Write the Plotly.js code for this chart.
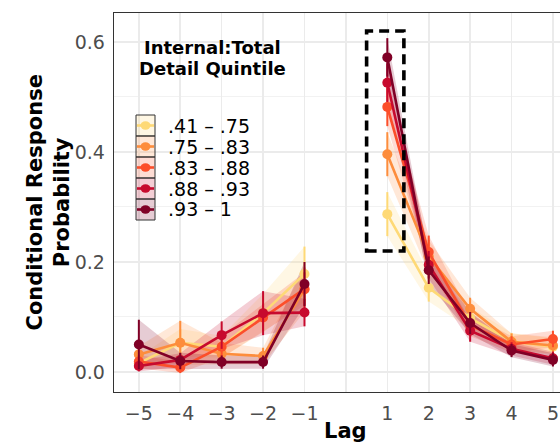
<!DOCTYPE html>
<html>
<head>
<meta charset="utf-8">
<script src="https://cdn.plot.ly/plotly-3.0.1.min.js"></script>
<style>html,body{margin:0;padding:0;background:#fff;}#chart{width:560px;height:445px;}</style>
</head>
<body>
<div id="chart"></div>
<script>
// ---- data ----
const groupLabels = [".41 \u2013 .75", ".75 \u2013 .83", ".83 \u2013 .88", ".88 \u2013 .93", ".93 \u2013 1"];
const groupColors = ["#FED976", "#FD8D3C", "#FC4E2A", "#C70A2E", "#800026"];
const lagsNeg = [-5, -4, -3, -2, -1];
const lagsPos = [1, 2, 3, 4, 5];

const crpNeg = [
  [0.016, 0.053, 0.046, 0.107, 0.178],
  [0.032, 0.053, 0.033, 0.029, 0.150],
  [0.019, 0.008, 0.046, 0.099, 0.151],
  [0.011, 0.022, 0.067, 0.107, 0.108],
  [0.050, 0.020, 0.018, 0.018, 0.160]
];
const crpPos = [
  [0.287, 0.153, 0.098, 0.056, 0.046],
  [0.396, 0.210, 0.115, 0.055, 0.048],
  [0.482, 0.218, 0.085, 0.050, 0.060],
  [0.526, 0.195, 0.075, 0.042, 0.025],
  [0.572, 0.185, 0.089, 0.039, 0.022]
];
const ciNeg = [
  [0.012, 0.025, 0.020, 0.035, 0.050],
  [0.015, 0.040, 0.020, 0.015, 0.040],
  [0.012, 0.010, 0.020, 0.025, 0.030],
  [0.010, 0.012, 0.025, 0.040, 0.025],
  [0.045, 0.015, 0.012, 0.012, 0.040]
];
const ciPos = [
  [0.040, 0.025, 0.020, 0.015, 0.015],
  [0.040, 0.030, 0.020, 0.015, 0.015],
  [0.035, 0.030, 0.020, 0.015, 0.015],
  [0.035, 0.025, 0.020, 0.012, 0.012],
  [0.035, 0.025, 0.020, 0.012, 0.012]
];
const xTickVals = [-5, -4, -3, -2, -1, 0, 1, 2, 3, 4, 5];
const xTickText = ["\u22125", "\u22124", "\u22123", "\u22122", "\u22121", "", "1", "2", "3", "4", "5"];
const yTickVals = [0, 0.2, 0.4, 0.6];
const yTickText = ["0.0", "0.2", "0.4", "0.6"];
const legendTitle = ["Internal:Total", "Detail Quintile"];
const highlight = {x0: 0.5, x1: 1.4, y0: 0.22, y1: 0.62};

// ---- helpers ----
function rgba(hex, a) {
  const r = parseInt(hex.slice(1, 3), 16), g = parseInt(hex.slice(3, 5), 16), b = parseInt(hex.slice(5, 7), 16);
  return `rgba(${r},${g},${b},${a})`;
}
const FONT = "DejaVu Sans, Liberation Sans, Arial, sans-serif";
const L = 114, R = 560, T = 13, B = 392;
const pxX = x => (x - L) / (R - L);
const pxY = y => (B - y) / (B - T);

const ribbons = [], lines = [];
const sides = [[lagsNeg, crpNeg, ciNeg], [lagsPos, crpPos, ciPos]];
groupLabels.forEach((lab, g) => {
  sides.forEach(([lags, crp, ci]) => {
    const up = crp[g].map((v, i) => v + ci[g][i]);
    const lo = crp[g].map((v, i) => v - ci[g][i]);
    ribbons.push({
      type: "scatter", mode: "lines", x: lags.concat(lags.slice().reverse()),
      y: up.concat(lo.slice().reverse()), fill: "toself", fillcolor: rgba(groupColors[g], 0.2),
      line: {width: 0}, hoverinfo: "skip", showlegend: false
    });
    lines.push({
      type: "scatter", mode: "lines+markers", x: lags, y: crp[g], name: lab, showlegend: false,
      line: {color: groupColors[g], width: 2.6},
      marker: {color: groupColors[g], size: 10},
      error_y: {type: "data", array: ci[g], visible: true, width: 0, thickness: 2, color: groupColors[g]}
    });
  });
});

const shapes = [{
  type: "rect", xref: "x", yref: "y", x0: highlight.x0, x1: highlight.x1, y0: highlight.y0, y1: highlight.y1,
  line: {color: "#000", width: 3.6, dash: "10px,6px"}, layer: "above"
}];
const annotations = [];
legendTitle.forEach((t, i) => annotations.push({
  xref: "paper", yref: "paper", x: pxX(212), y: pxY(47 + i * 21.5), text: "<b>" + t + "</b>",
  showarrow: false, xanchor: "center", yanchor: "middle", font: {family: FONT, size: 18, color: "#000"}
}));
groupLabels.forEach((lab, g) => {
  const top = 115 + g * 21, cy = top + 10.5;
  shapes.push({type: "rect", xref: "paper", yref: "paper", x0: pxX(136), x1: pxX(155), y0: pxY(top), y1: pxY(top + 21),
    fillcolor: rgba(groupColors[g], 0.2), line: {color: "#333", width: 1}, layer: "above"});
  shapes.push({type: "line", xref: "paper", yref: "paper", x0: pxX(137), x1: pxX(154), y0: pxY(cy), y1: pxY(cy),
    line: {color: groupColors[g], width: 2.6}, layer: "above"});
  shapes.push({type: "circle", xref: "paper", yref: "paper", x0: pxX(140.5), x1: pxX(150.5), y0: pxY(cy - 4.2), y1: pxY(cy + 4.2),
    fillcolor: groupColors[g], line: {width: 0}, layer: "above"});
  annotations.push({xref: "paper", yref: "paper", x: pxX(166), y: pxY(cy), text: lab, showarrow: false,
    xanchor: "left", yanchor: "middle", font: {family: FONT, size: 19, color: "#000"}});
});
annotations.push({xref: "x", yref: "paper", x: 0, y: pxY(431), text: "<b>Lag</b>", showarrow: false,
  xanchor: "center", yanchor: "middle", font: {family: FONT, size: 21, color: "#000"}});
annotations.push({xref: "paper", yref: "paper", x: pxX(48), y: 0.5, text: "<b>Conditional Response<br>Probability</b>",
  showarrow: false, textangle: -90, xanchor: "center", yanchor: "middle", font: {family: FONT, size: 21, color: "#000"}});

const layout = {
  width: 560, height: 445,
  margin: {l: L, r: 560 - R, t: T, b: 445 - B, pad: 0},
  paper_bgcolor: "#fff", plot_bgcolor: "#fff",
  showlegend: false,
  font: {family: FONT},
  xaxis: {
    range: [-5.6, 5.17], tickmode: "array", tickvals: xTickVals, ticktext: xTickText,
    showgrid: true, gridcolor: "#EBEBEB", gridwidth: 1.6, zeroline: false,
    showline: true, linecolor: "#333", linewidth: 1.3, mirror: true,
    ticks: "", ticklabelstandoff: 4, tickfont: {family: FONT, size: 19, color: "#4D4D4D"}
  },
  yaxis: {
    range: [-0.0364, 0.6527], tickmode: "array", tickvals: yTickVals, ticktext: yTickText,
    showgrid: true, gridcolor: "#EBEBEB", gridwidth: 1.6, zeroline: false,
    minor: {tickmode: "array", tickvals: [0.1, 0.3, 0.5], showgrid: true, gridcolor: "#F2F2F2", gridwidth: 1},
    showline: true, linecolor: "#333", linewidth: 1.3, mirror: false,
    ticks: "", ticklabelstandoff: 4, tickfont: {family: FONT, size: 19, color: "#4D4D4D"}
  },
  shapes: shapes, annotations: annotations
};
Plotly.newPlot("chart", ribbons.concat(lines), layout, {displayModeBar: false, staticPlot: true});
</script>
</body>
</html>
